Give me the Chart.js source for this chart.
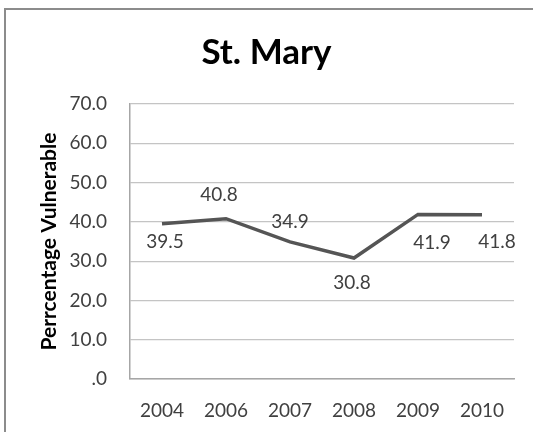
<!DOCTYPE html>
<html>
<head>
<meta charset="utf-8">
<script src="https://cdn.jsdelivr.net/npm/chart.js@4.4.1/dist/chart.umd.min.js"></script>
<style>
  html, body { margin: 0; padding: 0; background: #fff; }
  #wrap { width: 533px; height: 432px; position: relative; }
</style>
</head>
<body>
<div id="wrap"><canvas id="myChart" width="533" height="432"></canvas></div>
<script>
const years = ['2004', '2006', '2007', '2008', '2009', '2010'];
const vulnerable = [39.5, 40.8, 34.9, 30.8, 41.9, 41.8];
const yTicks = [0, 10, 20, 30, 40, 50, 60, 70];

const FONT = 'Lato, "Open Sans", sans-serif';

// frame around the chart (only left and top edges show)
const frame = {
   id: 'frame',
   beforeDraw(chart) {
      const c = chart.ctx;
      c.save();
      c.fillStyle = '#fff';
      c.fillRect(0, 0, chart.width, chart.height);
      c.strokeStyle = '#8c8c8c';
      c.lineWidth = 2;
      c.beginPath();
      c.moveTo(5, chart.height);
      c.lineTo(5, 9);
      c.lineTo(chart.width, 9);
      c.stroke();
      c.restore();
   }
};

// value labels next to each point, placed like Excel's defaults
const valueLabels = {
   id: 'valueLabels',
   afterDatasetsDraw(chart, args, opts) {
      const c = chart.ctx;
      const meta = chart.getDatasetMeta(0);
      c.save();
      c.font = opts.font;
      c.fillStyle = opts.color;
      c.textAlign = 'center';
      c.textBaseline = 'middle';
      meta.data.forEach(function (pt, i) {
         const off = opts.offsets[i];
         c.fillText(vulnerable[i].toFixed(1), pt.x + off[0], pt.y + off[1]);
      });
      c.restore();
   }
};

let ctx = document.getElementById('myChart');

let myChart = new Chart(ctx, {
   type: 'line',
   data: {
      labels: years,
      datasets: [{
         data: vulnerable,
         borderColor: '#555555',
         borderWidth: 3.5,
         pointRadius: 0,
         tension: 0,
         fill: false
      }]
   },
   options: {
      responsive: false,
      animation: false,
      devicePixelRatio: 1,
      layout: { padding: { left: 19, right: 19, top: 0, bottom: 0 } },
      plugins: {
         legend: { display: false },
         tooltip: { enabled: false },
         title: {
            display: true,
            text: 'St. Mary',
            color: '#000',
            font: { family: FONT, size: 35, weight: 'bold' },
            padding: { top: 32, bottom: 30 }
         },
         valueLabels: {
            font: '19px ' + FONT,
            color: '#404040',
            offsets: [[3, 18], [-7, -24], [0, -20], [-2, 25], [14, 28], [15, 27]]
         }
      },
      scales: {
         x: {
            offset: true,
            grid: { display: false, drawTicks: false },
            border: { color: '#a6a6a6', width: 1.5 },
            ticks: {
               color: '#404040',
               font: { family: FONT, size: 19 },
               padding: 20,
               maxRotation: 0
            },
            afterFit: function (s) { s.height = 53; }
         },
         y: {
            min: 0,
            max: 70,
            afterBuildTicks: function (s) {
               s.ticks = yTicks.map(function (v) { return { value: v }; });
            },
            grid: { color: '#c4c4c4', lineWidth: 1.2, drawTicks: false },
            border: { color: '#a6a6a6', width: 1.5 },
            ticks: {
               color: '#404040',
               font: { family: FONT, size: 19 },
               padding: 23,
               callback: function (v) { return v === 0 ? '.0' : v.toFixed(1); }
            },
            title: {
               display: true,
               text: 'Perrcentage Vulnerable',
               color: '#000',
               font: { family: FONT, size: 21, weight: 'bold' },
               padding: { top: 18, bottom: 0 }
            },
            afterFit: function (s) { s.width = 111; }
         }
      }
   },
   plugins: [frame, valueLabels]
});
</script>
</body>
</html>
